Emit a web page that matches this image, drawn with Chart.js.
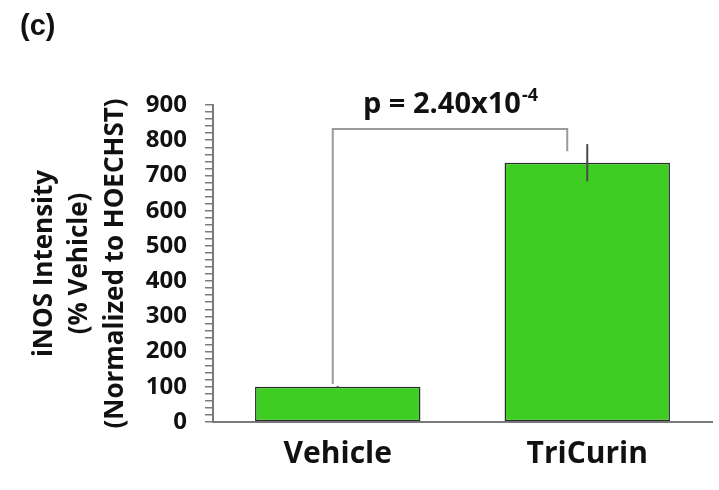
<!DOCTYPE html>
<html>
<head>
<meta charset="utf-8">
<script src="https://cdn.jsdelivr.net/npm/chart.js@4/dist/chart.umd.min.js"></script>
<style>
  html, body { margin: 0; padding: 0; background: #ffffff; }
  #wrap { width: 719px; height: 490px; position: relative; }
</style>
</head>
<body>
<div id="wrap"><canvas id="c" width="719" height="490"></canvas></div>
<script>
// Groups and mean iNOS intensity (% of vehicle), with SEM
const categories = ['Vehicle', 'TriCurin'];
const meanValues = [100, 736];
const errorValues = [2, 53];

// y axis ticks (minor every 20, labelled every 100)
const yMin = 0;
const yMax = 900;
const yStep = 20;
const yLabelStep = 100;

// significance bracket: heights of the left leg end, top bar, right leg end
const bracketValues = [108, 832, 769];
const pText = 'p = 2.40x10';
const pExponent = '-4';

const panelLabel = '(c)';
const yTitle = ['iNOS Intensity', '(% Vehicle)', '(Normalized to HOECHST)'];

const FONT = '"Open Sans", Lato, sans-serif';
const AXIS_GRAY = '#7a7a7a';

// error bars, significance bracket, p-value and panel letter
const extras = {
  id: 'extras',
  afterDatasetsDraw(chart) {
    const ctx = chart.ctx;
    const y = chart.scales.y;
    const meta = chart.getDatasetMeta(0);
    ctx.save();
    // error bars
    ctx.strokeStyle = '#4a4a4a';
    ctx.lineWidth = 2;
    meta.data.forEach((bar, i) => {
      const top = y.getPixelForValue(meanValues[i] + errorValues[i]);
      const bot = y.getPixelForValue(meanValues[i] - errorValues[i]);
      ctx.beginPath();
      ctx.moveTo(bar.x, top);
      ctx.lineTo(bar.x, bot);
      ctx.stroke();
    });
    // bracket
    const xl = meta.data[0].x - 5;
    const xr = meta.data[1].x - 20;
    const yl = y.getPixelForValue(bracketValues[0]);
    const yt = y.getPixelForValue(bracketValues[1]);
    const yr = y.getPixelForValue(bracketValues[2]);
    ctx.strokeStyle = '#9a9a9a';
    ctx.lineWidth = 2;
    ctx.beginPath();
    ctx.moveTo(xl, yl);
    ctx.lineTo(xl, yt);
    ctx.lineTo(xr, yt);
    ctx.lineTo(xr, yr);
    ctx.stroke();
    // p-value with superscript exponent
    ctx.fillStyle = '#111111';
    ctx.textBaseline = 'alphabetic';
    ctx.font = 'bold 29px ' + FONT;
    const w1 = ctx.measureText(pText).width;
    ctx.font = 'bold 18px ' + FONT;
    const w2 = ctx.measureText(pExponent).width;
    const cx = (xl + xr) / 2;
    const x0 = cx - (w1 + w2) / 2;
    const base = yt - 16;
    ctx.font = 'bold 29px ' + FONT;
    ctx.textAlign = 'left';
    ctx.fillText(pText, x0, base);
    ctx.font = 'bold 18px ' + FONT;
    ctx.fillText(pExponent, x0 + w1 + 1, base - 12);
    // panel letter
    ctx.font = 'bold 29px "Liberation Sans", Arial, sans-serif';
    ctx.textBaseline = 'top';
    ctx.fillText(panelLabel, 20, 12);
    ctx.restore();
  }
};

new Chart(document.getElementById('c'), {
  type: 'bar',
  data: {
    labels: categories,
    datasets: [{
      data: meanValues,
      backgroundColor: '#3ecd22',
      borderColor: '#2b2b2b',
      borderWidth: 1.5,
      borderSkipped: false,
      categoryPercentage: 1,
      barPercentage: 0.663
    }]
  },
  options: {
    responsive: false,
    animation: false,
    devicePixelRatio: 1,
    layout: { padding: { top: 105, right: 7, bottom: 4, left: 0 } },
    plugins: { legend: { display: false }, tooltip: { enabled: false }, title: { display: false } },
    scales: {
      x: {
        grid: { display: false, drawTicks: false },
        border: { display: true, color: AXIS_GRAY, width: 2 },
        ticks: { color: '#111111', padding: 14, font: { family: FONT, size: 30, weight: 'bold' } }
      },
      y: {
        min: yMin,
        max: yMax,
        afterFit(scale) { scale.width = 213; },
        grid: { drawOnChartArea: false, drawTicks: true, tickLength: 8, color: AXIS_GRAY, lineWidth: 1.5 },
        border: { display: true, color: AXIS_GRAY, width: 2 },
        ticks: {
          stepSize: yStep,
          autoSkip: false,
          padding: 18,
          color: '#111111',
          font: { family: FONT, size: 24, weight: 'bold' },
          callback: (v) => (v % yLabelStep === 0 ? String(v) : '')
        },
        title: {
          display: true,
          text: yTitle,
          color: '#111111',
          padding: { top: 27, bottom: 0 },
          font: { family: FONT, size: 26, weight: 'bold', lineHeight: 1.36 }
        }
      }
    }
  },
  plugins: [extras]
});
</script>
</body>
</html>
